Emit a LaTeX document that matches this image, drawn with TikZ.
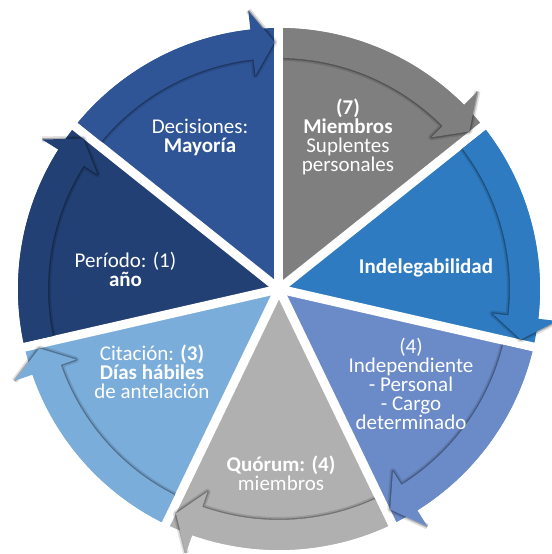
\documentclass[tikz,border=0pt]{standalone}
\usepackage{fontspec}
\setmainfont{Carlito}
\definecolor{cMi}{HTML}{7F7F7F}
\definecolor{cIn}{HTML}{2E7BC1}
\definecolor{cId}{HTML}{6A8AC8}
\definecolor{cQu}{HTML}{B0B0B0}
\definecolor{cCi}{HTML}{7BADDB}
\definecolor{cPe}{HTML}{224074}
\definecolor{cDe}{HTML}{2F5597}
\begin{document}
\begin{tikzpicture}[x=0.75pt,y=0.75pt,
  lbl/.style={text=white, align=center, font=\fontsize{15.75}{14.25}\selectfont},
  gapline/.style={white, line width=6.75pt},
  shadowline/.style={black, line join=round}]
\useasboundingbox (-279,-265) rectangle (272,289);
% wedges
\foreach \i/\c in {0/cMi,1/cIn,2/cId,3/cQu,4/cCi,5/cPe,6/cDe}{
  \pgfmathsetmacro\angA{90-\i*360/7}
  \pgfmathsetmacro\angB{\angA-360/7}
  \fill[\c] (0,0) -- (\angA:261) arc[start angle=\angA, end angle=\angB, radius=261] -- cycle;
}
% gaps
\foreach \i in {0,...,6}{
  \pgfmathsetmacro\angA{90-\i*360/7}
  \draw[gapline] (0,0) -- (\angA:268);
}
% arrow bands
\foreach \i/\c in {0/cMi,1/cIn,2/cId,3/cQu,4/cCi,5/cPe,6/cDe}{
  \pgfmathsetmacro\angA{90-\i*360/7}
  \pgfmathsetmacro\angB{\angA-360/7}
  \pgfmathsetmacro\angO{\angA-0.988}
  \pgfmathsetmacro\angI{\angA-1.116}
  \pgfmathsetmacro\angH{\angB+6.3}
  \pgfmathsetmacro\angT{\angB+1.05}
  \draw[shadowline, opacity=0.12, line width=4.5pt]
    (\angI:231) arc[start angle=\angI, end angle=\angH, radius=231] -- (\angH:215) -- (\angT:247) -- (\angH:280);
  \draw[shadowline, opacity=0.25, line width=2pt]
    (\angI:231) arc[start angle=\angI, end angle=\angH, radius=231] -- (\angH:215) -- (\angT:247) -- (\angH:280);
  \fill[\c] (\angO:261) arc[start angle=\angO, end angle=\angH, radius=261]
    -- (\angH:280) -- (\angT:247) -- (\angH:215) -- (\angH:231)
    arc[start angle=\angH, end angle=\angI, radius=231] -- cycle;
}
% labels
\node[lbl] (de) at (-79,152) {Decisiones:\\\textbf{Mayoría}};
\node[lbl] (mi) at (69,152) {\textbf{(7)}\\\textbf{Miembros}\\Suplentes\\personales};
\node[lbl] (ig) at (147,21) {\textbf{Indelegabilidad}};
\node[lbl] (id) at (132,-95) {(4)\\Independiente\\- Personal\\- Cargo\\determinado};
\node[lbl] (qu) at (2,-184) {\textbf{Quórum: (4)}\\miembros};
\node[lbl] (ci) at (-127,-83) {Citación: \textbf{(3)}\\\textbf{Días hábiles}\\de antelación};
\node[lbl] (pe) at (-153.5,20) {Período: (1)\\\textbf{año}};
\end{tikzpicture}
\end{document}
